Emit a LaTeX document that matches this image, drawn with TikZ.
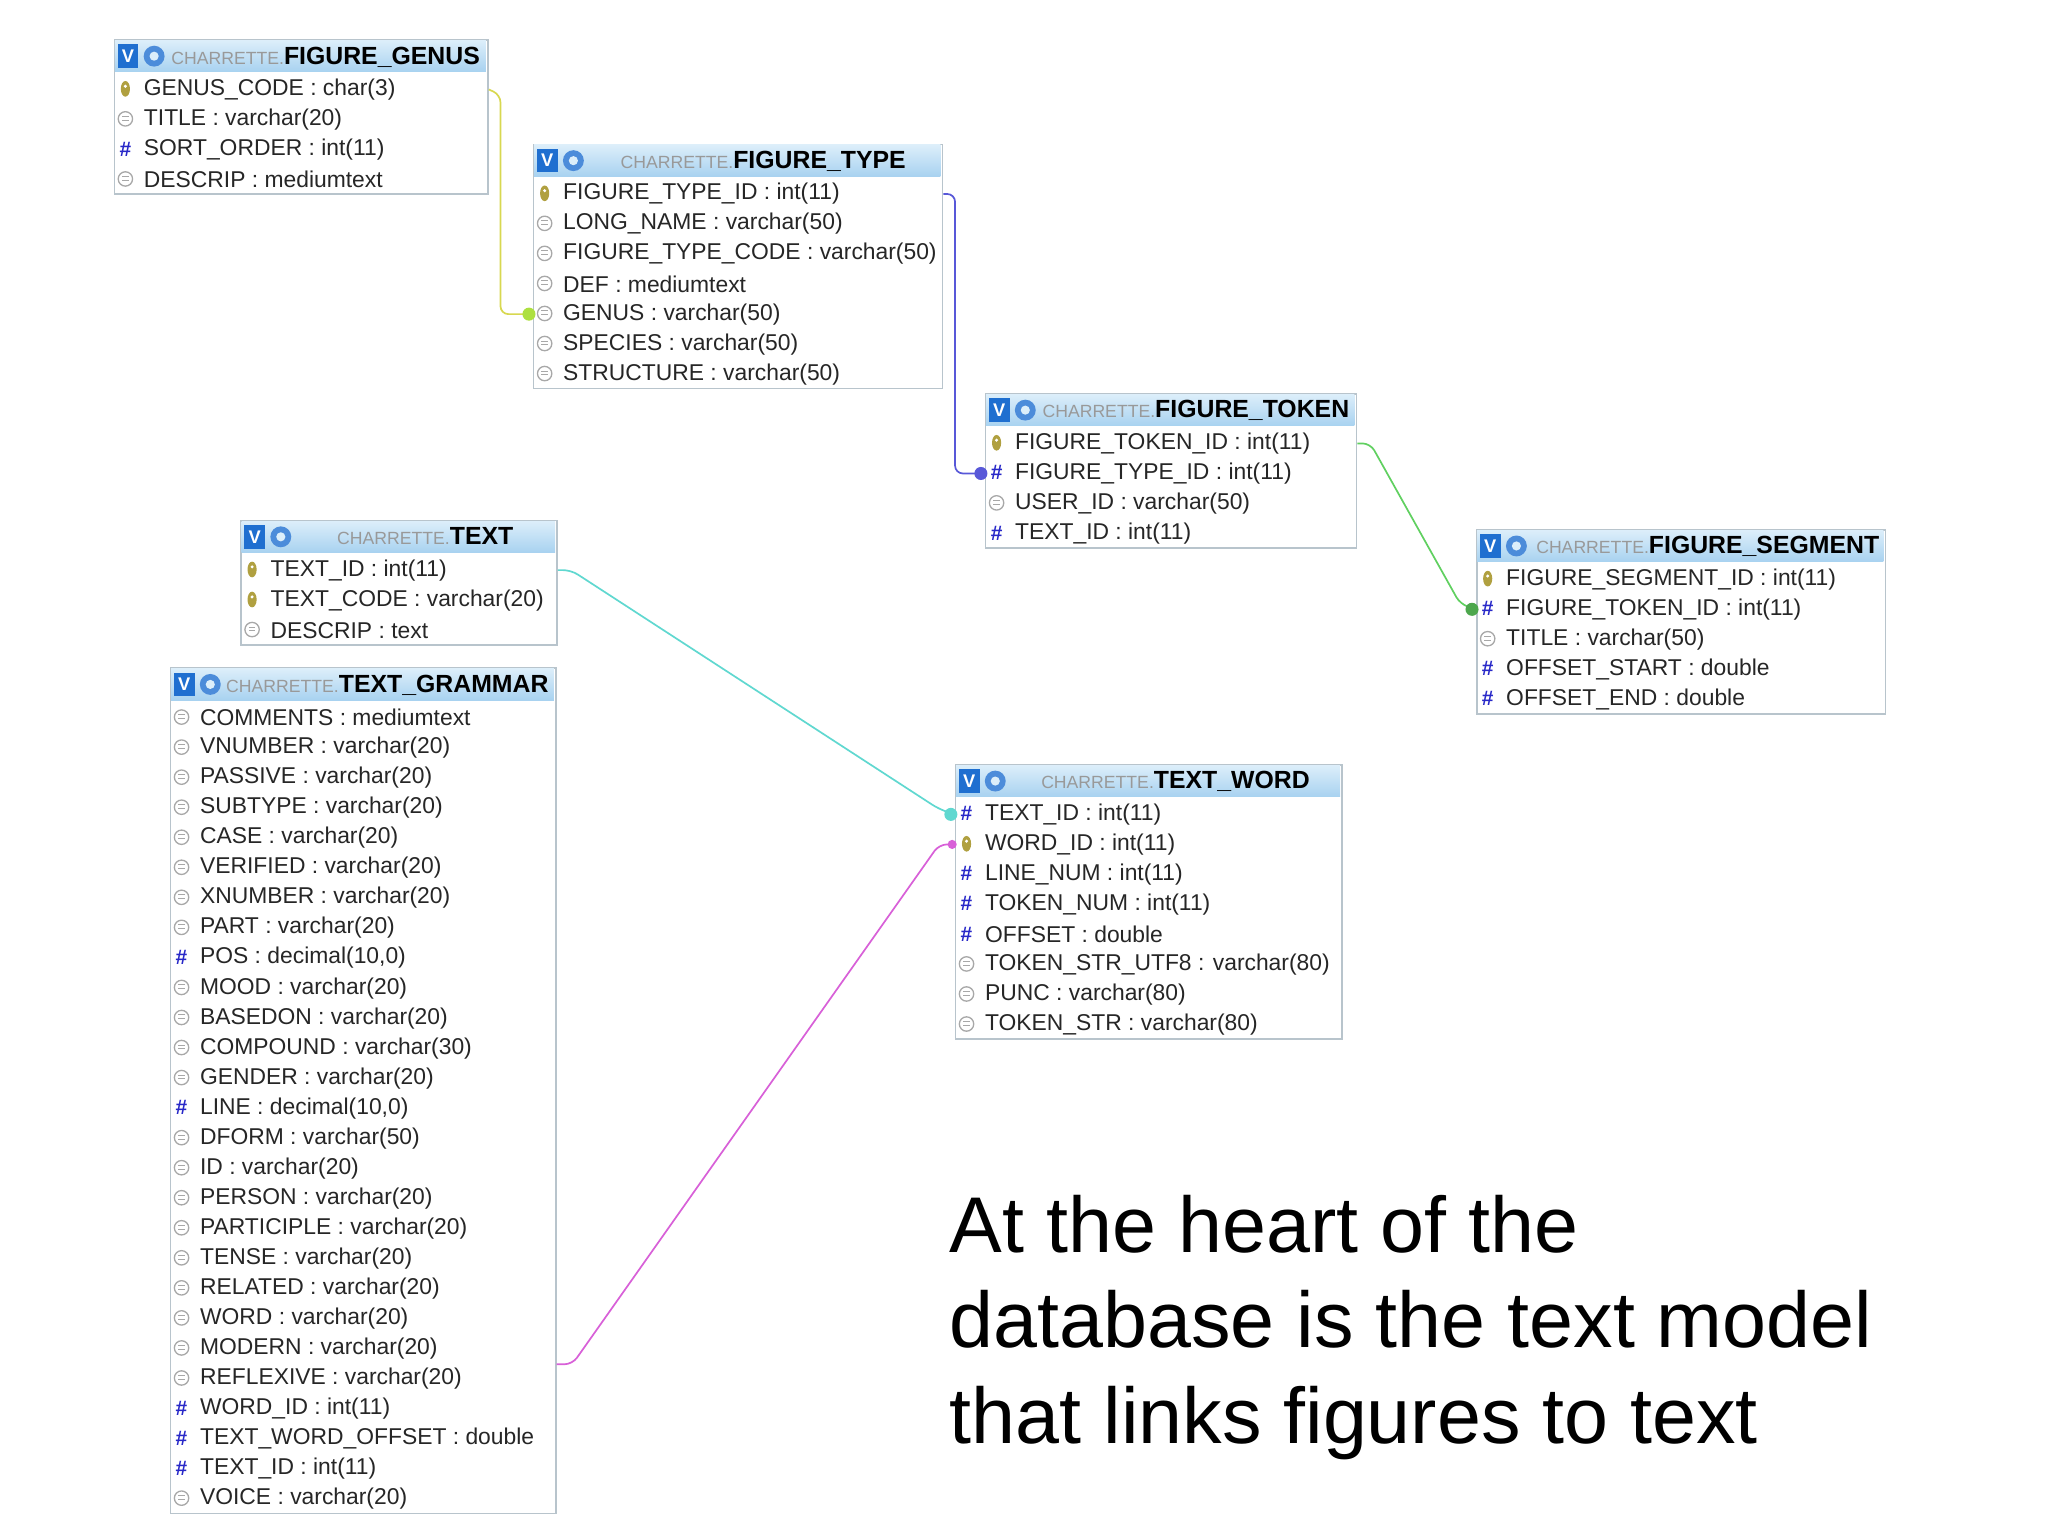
\documentclass[tikz,border=0pt]{standalone}
\usepackage{fontspec}
\setmainfont{Liberation Sans}
\usetikzlibrary{calc}
\definecolor{hdrA}{HTML}{DCEEFA}
\definecolor{hdrB}{HTML}{A8D2F0}
\definecolor{vblue}{HTML}{1F6FD0}
\definecolor{frame}{HTML}{B8C4CC}
\definecolor{keyc}{HTML}{B0A040}
\definecolor{colc}{HTML}{A8A8A8}
\definecolor{hashc}{HTML}{2828C8}
\definecolor{lnY}{HTML}{D8D850}
\definecolor{lnB}{HTML}{5858D8}
\definecolor{lnG}{HTML}{60D060}
\definecolor{lnC}{HTML}{60D8D0}
\definecolor{lnM}{HTML}{D860D8}
\tikzset{
  rowtxt/.style={inner sep=0pt,anchor=west,font=\fontsize{17.5}{20}\selectfont,text=black!85},
  tframe/.style={draw=frame,line width=1.2pt,inner sep=0pt,anchor=north west,fill=white},
  conn/.style={line width=1.3pt,rounded corners=6pt},
}
\newcommand\rowicon[3]{% type, x, y
  \if#1k\fill[keyc] (#2,#3) ellipse (3.5 and 6);\fill[white] (#2,#3-2) circle (1.3);\fi
  \if#1c\draw[colc,line width=1pt] (#2,#3) circle (5.5);\draw[colc,line width=0.6pt] (#2-2.5,#3-2)--(#2+2.5,#3-2) (#2-2.5,#3+1)--(#2+2.5,#3+1);\fi
  \if#1h\node[inner sep=0pt,text=hashc,font=\fontsize{16}{16}\selectfont\bfseries] at (#2,#3) {\#};\fi
}
% name, x, y, width, nrows, title offset, title, rows
\newcommand\dbtable[8]{%
  \node[tframe,minimum width=#4,minimum height={26+#5*23}] (#1) at (#2,#3) {};
  \shade[top color=hdrA,bottom color=hdrB] (#2+1,#3+1) rectangle (#2+#4-1,#3+25);
  \fill[vblue] (#2+3,#3+4) rectangle (#2+19,#3+22);
  \node[inner sep=0pt,text=white,font=\fontsize{14}{14}\selectfont\bfseries] at (#2+11,#3+13) {V};
  \fill[vblue!80] (#2+31,#3+13) circle (8);
  \fill[hdrA] (#2+31,#3+13) circle (3.5);
  \node[inner sep=0pt,anchor=base west,font=\fontsize{19}{20}\selectfont] at (#2+#6,#3+19)
     {\textcolor{black!40}{\fontsize{13.5}{13}\selectfont CHARRETTE.}\textbf{#7}};
  \foreach \t/\s [count=\i] in {#8} {
    \rowicon{\t}{#2+9}{#3+15+\i*23}
    \node[rowtxt] (#1-\i) at (#2+23,#3+15.5+\i*23) {\s};
  }
}
\begin{document}
\begin{tikzpicture}[x=1pt,y=-1pt]
\useasboundingbox[fill=white] (0,0) rectangle (1568,1176);
\dbtable{genus}{87}{30}{286}{4}{44}{FIGURE\_GENUS}{k/GENUS\_CODE : char(3),c/TITLE : varchar(20),h/SORT\_ORDER : int(11),c/DESCRIP : mediumtext}
\dbtable{type}{408}{110}{313}{7}{67}{FIGURE\_TYPE}{k/FIGURE\_TYPE\_ID : int(11),c/LONG\_NAME : varchar(50),c/FIGURE\_TYPE\_CODE : varchar(50),c/DEF : mediumtext,c/GENUS : varchar(50),c/SPECIES : varchar(50),c/STRUCTURE : varchar(50)}
\dbtable{token}{754}{301}{284}{4}{44}{FIGURE\_TOKEN}{k/FIGURE\_TOKEN\_ID : int(11),h/FIGURE\_TYPE\_ID : int(11),c/USER\_ID : varchar(50),h/TEXT\_ID : int(11)}
\dbtable{seg}{1130}{405}{313}{5}{46}{FIGURE\_SEGMENT}{k/FIGURE\_SEGMENT\_ID : int(11),h/FIGURE\_TOKEN\_ID : int(11),c/TITLE : varchar(50),h/OFFSET\_START : double,h/OFFSET\_END : double}
\dbtable{text}{184}{398}{242}{3}{74}{TEXT}{k/TEXT\_ID : int(11),k/TEXT\_CODE : varchar(20),c/DESCRIP : text}
\dbtable{gram}{130}{511}{295}{27}{43}{TEXT\_GRAMMAR}{c/COMMENTS : mediumtext,c/VNUMBER : varchar(20),c/PASSIVE : varchar(20),c/SUBTYPE : varchar(20),c/CASE : varchar(20),c/VERIFIED : varchar(20),c/XNUMBER : varchar(20),c/PART : varchar(20),h/{POS : decimal(10,0)},c/MOOD : varchar(20),c/BASEDON : varchar(20),c/COMPOUND : varchar(30),c/GENDER : varchar(20),h/{LINE : decimal(10,0)},c/DFORM : varchar(50),c/ID : varchar(20),c/PERSON : varchar(20),c/PARTICIPLE : varchar(20),c/TENSE : varchar(20),c/RELATED : varchar(20),c/WORD : varchar(20),c/MODERN : varchar(20),c/REFLEXIVE : varchar(20),h/WORD\_ID : int(11),h/TEXT\_WORD\_OFFSET : double,h/TEXT\_ID : int(11),c/VOICE : varchar(20)}
\dbtable{word}{731}{585}{296}{8}{66}{TEXT\_WORD}{h/TEXT\_ID : int(11),k/WORD\_ID : int(11),h/LINE\_NUM : int(11),h/TOKEN\_NUM : int(11),h/OFFSET : double,c/TOKEN\_STR\_UTF8 : varchar(80),c/PUNC : varchar(80),c/TOKEN\_STR : varchar(80)}
% connectors
\draw[conn,lnY] (genus.east |- genus-1) -- ++(9,4) -- ++(0,150) |- (type.west |- type-5);
\fill[lnY!80!green] (type.west |- type-5) ++(-3,0) circle (5);
\draw[conn,lnB] (type.east |- type-1) -- ++(9,0) |- (token.west |- token-2);
\fill[lnB] (token.west |- token-2) ++(-3,0) circle (5);
\draw[conn,lnG] (token.east |- token-1) -- ++(10,0) -- ($(seg.west |- seg-2)+(-12,-4)$) -- (seg.west |- seg-2);
\fill[lnG!80!black] (seg.west |- seg-2) ++(-3,0) circle (5);
\draw[conn,lnC] (text.east |- text-1) -- ++(10,0) -- ($(word.west |- word-1)+(-12,-4)$) -- (word.west |- word-1);
\fill[lnC] (word.west |- word-1) ++(-3,0) circle (5);
\draw[conn,lnM] ($(gram.east |- gram-23)+(0,-11)$) -- ++(12,0) -- ($(word.west |- word-2)+(-12,0)$) -- (word.west |- word-2);
\fill[lnM] (word.west |- word-2) ++(-2,0) circle (3.5);
% caption
\node[anchor=north west,align=left,inner sep=0pt,font=\fontsize{60.5}{73}\selectfont] (cap) at (727,915)
 {At the heart of the\\database is the text model\\that links figures to text};
\end{tikzpicture}
\end{document}
